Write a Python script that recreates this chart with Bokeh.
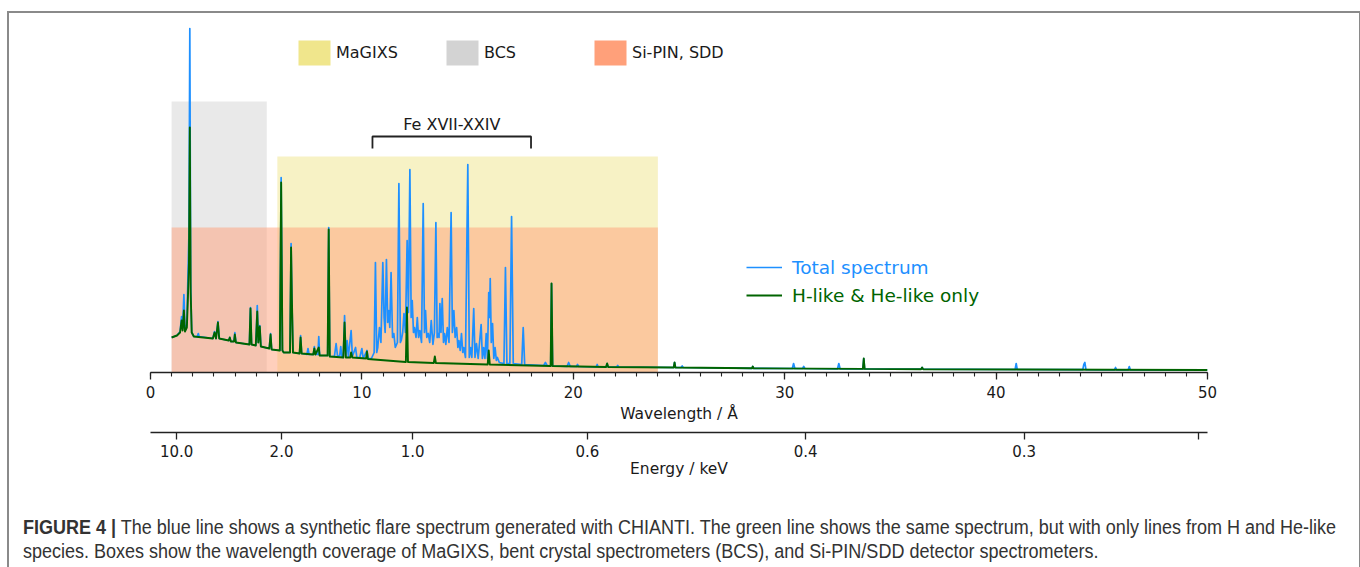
from bokeh.plotting import figure
from bokeh.layouts import column
from bokeh.models import (Range1d, LinearAxis, SingleIntervalTicker, FixedTicker, Legend,
                          LegendItem, Label, ColumnDataSource, Div)
from bokeh.embed import file_html
from bokeh.resources import INLINE

# ---------------- data ----------------
# Synthetic flare spectrum (arbitrary intensity units), wavelength in Angstrom
total_wl = [1.00, 1.25, 1.40, 1.47, 1.52, 1.58, 1.63, 1.72, 1.77, 1.82, 1.86, 1.90, 1.95, 2.05,
            2.22, 2.26, 2.30, 2.95, 3.03, 3.10, 3.19, 3.25, 3.70, 3.75, 3.80, 3.95, 3.99, 4.04,
            4.68, 4.73, 4.78, 4.98, 5.05, 5.10, 5.17, 5.22, 5.62, 5.68, 5.73, 6.12, 6.18, 6.24,
            6.30, 6.60, 6.65, 6.69, 6.74, 7.05, 7.10, 7.15, 7.40, 7.45, 7.50, 7.70, 7.75, 7.80,
            7.92, 7.96, 8.00, 8.38, 8.43, 8.48, 8.70, 8.78, 8.85, 8.95, 9.00, 9.05, 9.12, 9.18,
            9.24, 9.30, 9.36, 9.49, 9.55, 9.70, 9.76, 9.90, 10.00, 10.06, 10.24, 10.30, 10.45,
            10.58, 10.64, 10.70, 10.75, 10.83, 10.90, 10.99, 11.05, 11.10, 11.16, 11.22, 11.27,
            11.32, 11.38, 11.45, 11.51, 11.58, 11.68, 11.75, 11.82, 11.86, 11.93, 11.99, 12.06,
            12.14, 12.20, 12.27, 12.33, 12.38, 12.44, 12.49, 12.56, 12.62, 12.68, 12.74, 12.82,
            12.90, 12.96, 13.01, 13.07, 13.14, 13.21, 13.28, 13.36, 13.43, 13.50, 13.56, 13.60,
            13.65, 13.69, 13.74, 13.80, 13.86, 13.91, 13.97, 14.04, 14.12, 14.22, 14.28, 14.35,
            14.41, 14.48, 14.54, 14.59, 14.65, 14.71, 14.77, 14.82, 14.90, 15.01, 15.08, 15.14,
            15.20, 15.29, 15.35, 15.42, 15.50, 15.64, 15.70, 15.76, 15.82, 15.88, 15.94, 16.00,
            16.04, 16.07, 16.12, 16.18, 16.24, 16.30, 16.36, 16.41, 16.50, 16.72, 16.79, 16.86,
            17.00, 17.08, 17.16, 17.56, 17.63, 17.70, 18.60, 18.68, 18.76, 18.93, 18.97, 19.02,
            19.70, 19.78, 19.86, 20.15, 20.20, 20.25, 21.08, 21.13, 21.18, 21.55, 21.60, 21.65,
            22.05, 22.10, 22.15, 24.75, 24.79, 24.83, 25.10, 25.15, 25.20, 28.45, 28.49, 28.53,
            30.36, 30.42, 30.48, 30.85, 30.90, 30.95, 32.50, 32.56, 32.62, 33.70, 33.74, 33.78,
            36.45, 36.50, 36.55, 40.90, 40.95, 41.00, 44.10, 44.15, 44.20, 44.25, 45.60, 45.65,
            45.70, 46.25, 46.30, 46.35, 50.00]
total_flux = [35, 37, 41, 56, 44, 78, 42, 48, 95, 140, 344, 90, 40, 36,
              36, 39, 36, 34, 41, 34, 51, 34, 32, 35, 31, 31, 40, 30,
              28, 65, 28, 27, 67, 30, 47, 26, 24, 39, 23, 22, 195, 22,
              20, 20, 129, 73, 20, 19, 37, 19, 18, 24, 18, 18, 26, 18,
              18, 36, 17, 17, 145, 16, 16, 29, 16, 17, 26, 16, 15, 57,
              16, 32, 16, 42, 16, 25, 15, 15, 24, 14, 22, 14, 14,
              20, 110, 20, 25, 45, 30, 110, 55, 40, 113, 50, 62,
              45, 100, 35, 39, 25, 30, 189, 30, 32, 40, 59, 40,
              132, 60, 203, 55, 72, 40, 45, 35, 55, 35, 42, 30,
              169, 40, 62, 35, 39, 30, 52, 28, 40, 150, 35, 39,
              35, 69, 40, 74, 30, 39, 28, 45, 30, 160, 40, 62,
              35, 45, 25, 32, 22, 39, 20, 25, 15, 208, 15, 25,
              15, 64, 15, 29, 14, 48, 14, 25, 14, 39, 14, 80,
              55, 94, 30, 49, 14, 25, 12, 15, 10, 9, 105, 9,
              9, 156, 9, 8, 45, 8, 7, 10, 7, 6.5, 89, 6.5,
              6, 10, 6, 6, 8, 6, 5.5, 8, 5.5, 5.5, 9, 5.5,
              5.5, 7, 5.5, 5, 10, 5, 5, 6.5, 5, 4.2, 6, 4.2,
              4, 9, 4, 4, 6, 4, 3.7, 9, 3.7, 3.6, 14, 3.6,
              3.3, 5, 3.3, 3, 9, 3, 2.8, 8, 10, 2.8, 2.7, 5,
              2.7, 2.7, 6, 2.7, 2.5]

hlike_wl = [1.00, 1.25, 1.40, 1.47, 1.52, 1.58, 1.63, 1.72, 1.77, 1.82, 1.86, 1.90, 1.95, 2.05,
            2.50, 2.95, 3.03, 3.10, 3.19, 3.25, 3.70, 3.75, 3.80, 3.95, 3.99, 4.04, 4.68, 4.73,
            4.78, 4.98, 5.05, 5.10, 5.17, 5.22, 5.62, 5.68, 5.73, 6.12, 6.18, 6.24, 6.30, 6.60,
            6.65, 6.69, 6.74, 7.05, 7.10, 7.15, 7.70, 7.75, 7.80, 7.96, 8.00, 8.38, 8.43, 8.48,
            9.12, 9.18, 9.24, 9.45, 9.49, 9.55, 10.20, 10.24, 10.28, 12.08, 12.13, 12.18, 13.40,
            13.45, 13.50, 15.95, 16.00, 16.05, 18.93, 18.97, 19.02, 21.55, 21.60, 21.65, 24.75,
            24.79, 24.83, 28.45, 28.49, 28.53, 33.70, 33.74, 33.78, 36.45, 36.50, 36.55, 50.00]
hlike_flux = [35, 37, 40, 52, 42, 62, 41, 45, 75, 110, 245, 80, 40, 36,
              35, 34, 40, 34, 50, 34, 32, 35, 31, 31, 38, 30, 28, 64,
              28, 27, 61, 30, 46, 26, 24, 38, 23, 22, 190, 22, 20, 20,
              125, 72, 20, 19, 35, 19, 18, 24, 18, 25, 17, 17, 143, 16,
              15, 50, 15, 15, 20, 15, 14, 21, 13.5, 10.5, 65, 10.5, 9.5,
              16, 9.5, 8, 22, 8, 6.5, 89, 6.5, 5.5, 9, 5.5, 5,
              10, 5, 4.2, 6, 4.2, 3.6, 14, 3.6, 3.3, 5, 3.3, 2.5]

# instrument wavelength coverage
inst_names = ["MaGIXS", "BCS", "Si-PIN, SDD"]
inst_wl_min = [6.0, 1.0, 1.0]
inst_wl_max = [24.0, 5.5, 24.0]
inst_colors = ["#f0e68c", "#d3d3d3", "#ffa07a"]
inst_box_top = [216, 271, 145]

fe_label = "Fe XVII-XXIV"
fe_band = [10.5, 18.0]

energy_ticks_kev = [10.0, 2.0, 1.0, 0.6, 0.4, 0.3, 0.25]
energy_tick_labels = ["10.0", "2.0", "1.0", "0.6", "0.4", "0.3", ""]
HC_KEV_A = 12.398

caption_bold = "FIGURE 4 |"
caption_1 = ("The blue line shows a synthetic flare spectrum generated with CHIANTI. "
             "The green line shows the same spectrum, but with only lines from H and He-like")
caption_2 = ("species. Boxes show the wavelength coverage of MaGIXS, bent crystal spectrometers "
             "(BCS), and Si-PIN/SDD detector spectrometers.")

# ---------------- figure ----------------
OX, OY = 9, 13                         # page position of the figure canvas
W, H = 1340, 492
FL, FR, FB, FT = 150, 1207, 372, 20    # frame edges in page pixels
XMAX, YMAX = 50, FB - FT

p = figure(width=W, height=H, output_backend="svg", toolbar_location=None,
           x_range=Range1d(0, XMAX), y_range=Range1d(0, YMAX),
           x_axis_type=None, y_axis_type=None,
           min_border_left=FL - OX, min_border_right=W - (FR - OX), min_border_top=FT - OY,
           min_border_bottom=H - (FB - OY))
p.outline_line_color = None
p.background_fill_color = None
p.border_fill_color = None

FONT = "DejaVu Sans"
TXT = "#1a1a1a"

src = ColumnDataSource(dict(left=inst_wl_min, right=inst_wl_max, top=inst_box_top,
                            bottom=[0] * len(inst_names), color=inst_colors, name=inst_names))
p.quad(left="left", right="right", top="top", bottom="bottom", fill_color="color",
       fill_alpha=0.5, line_color=None, source=src)
leg_boxes = p.quad(left="left", right="right", top="top", bottom="bottom", fill_color="color",
                   fill_alpha=1.0, line_color=None, source=src, visible=False)

r_total = p.line(total_wl, total_flux, line_color="#1e90ff", line_width=1.7, line_join="round")
r_hlike = p.line(hlike_wl, hlike_flux, line_color="#006400", line_width=1.9, line_join="round")

# Fe bracket
f0, f1 = fe_band
p.multi_line(xs=[[f0, f0, f1, f1]], ys=[[224, 236, 236, 224]], line_color="#222222",
             line_width=1.8)
p.add_layout(Label(x=(f0 + f1) / 2, y=248, text=fe_label, text_align="center",
                   text_baseline="middle", text_font=FONT, text_font_size="16px",
                   text_color=TXT))

# legends for boxes
box_leg_x = [144, 292, 440]
for i, name in enumerate(inst_names):
    lg = Legend(items=[LegendItem(label=name, renderers=[leg_boxes], index=i)],
                location=(box_leg_x[i], 304), orientation="horizontal", padding=0, margin=0,
                spacing=0, border_line_color=None, background_fill_alpha=0,
                glyph_width=40, glyph_height=31, label_height=31, label_standoff=2,
                label_text_font=FONT, label_text_font_size="16px", label_text_color=TXT)
    p.add_layout(lg)

for r, lab, col, ly in [(r_total, "Total spectrum", "#1e90ff", 93),
                        (r_hlike, "H-like & He-like only", "#006400", 65)]:
    lg = Legend(items=[LegendItem(label=lab, renderers=[r])], location=(596, ly),
                padding=0, margin=0, spacing=0, border_line_color=None,
                background_fill_alpha=0, glyph_width=36, glyph_height=24, label_height=24,
                label_standoff=10, label_text_font=FONT, label_text_font_size="18.5px",
                label_text_color=col)
    p.add_layout(lg)


# axes
def style_axis(ax):
    ax.axis_line_color = "#222222"
    ax.axis_line_width = 1.3
    ax.major_tick_line_color = "#222222"
    ax.major_tick_line_width = 1.3
    ax.major_tick_in = 0
    ax.major_tick_out = 7
    ax.major_label_text_font = FONT
    ax.major_label_text_font_size = "15px"
    ax.major_label_text_color = TXT
    ax.axis_label_text_font = FONT
    ax.axis_label_text_font_size = "15.5px"
    ax.axis_label_text_font_style = "normal"
    ax.axis_label_text_color = TXT


ax_wl = LinearAxis(ticker=SingleIntervalTicker(interval=10, num_minor_ticks=10),
                   axis_label="Wavelength / Å")
style_axis(ax_wl)
ax_wl.minor_tick_in = 0
ax_wl.minor_tick_out = 4
ax_wl.minor_tick_line_color = "#222222"
ax_wl.minor_tick_line_width = 1.1
ax_wl.major_label_standoff = 6
ax_wl.axis_label_standoff = 4
p.add_layout(ax_wl, "below")

# invisible gap between the two stacked axes
spacer = LinearAxis(ticker=FixedTicker(ticks=[]), axis_line_color=None,
                    major_tick_line_color=None, minor_tick_line_color=None,
                    major_tick_out=0, major_tick_in=0, minor_tick_out=0,
                    major_label_standoff=0, major_label_text_font_size="1px",
                    axis_label="\u00a0", axis_label_standoff=2,
                    axis_label_text_font_size="2px", axis_label_text_color="white")
p.add_layout(spacer, "below")

e_ticks_wl = [round(HC_KEV_A / e, 4) for e in energy_ticks_kev]
ax_e = LinearAxis(ticker=FixedTicker(ticks=e_ticks_wl, minor_ticks=[]),
                  axis_label="Energy / keV",
                  major_label_overrides={t: l for t, l in zip(e_ticks_wl, energy_tick_labels)})
style_axis(ax_e)
ax_e.major_label_standoff = 5
ax_e.axis_label_standoff = 0
p.add_layout(ax_e, "below")

# caption (HTML text under the chart)
cap_html = (
    '<div style="font-family: \'Liberation Sans\', Arial, sans-serif; font-size: 20px; '
    'line-height: 24px; color: #333333; white-space: nowrap; padding: 5px 0 0 10px; '
    'transform: scaleX(0.9); transform-origin: 0 0;">'
    f'<div><b>{caption_bold}</b> {caption_1}</div>'
    f'<div>{caption_2}</div>'
    '</div>'
)
cap = Div(text=cap_html, width=W, height=567 - OY - H)

root = column(p, cap, spacing=0,
              styles={"margin": "11px 5px 0 7px", "border-top": "2px solid #8a8a8a",
                      "border-left": "2px solid #8a8a8a", "border-right": "2px solid #8a8a8a"})

open("out.html", "w").write(file_html(root, INLINE))
